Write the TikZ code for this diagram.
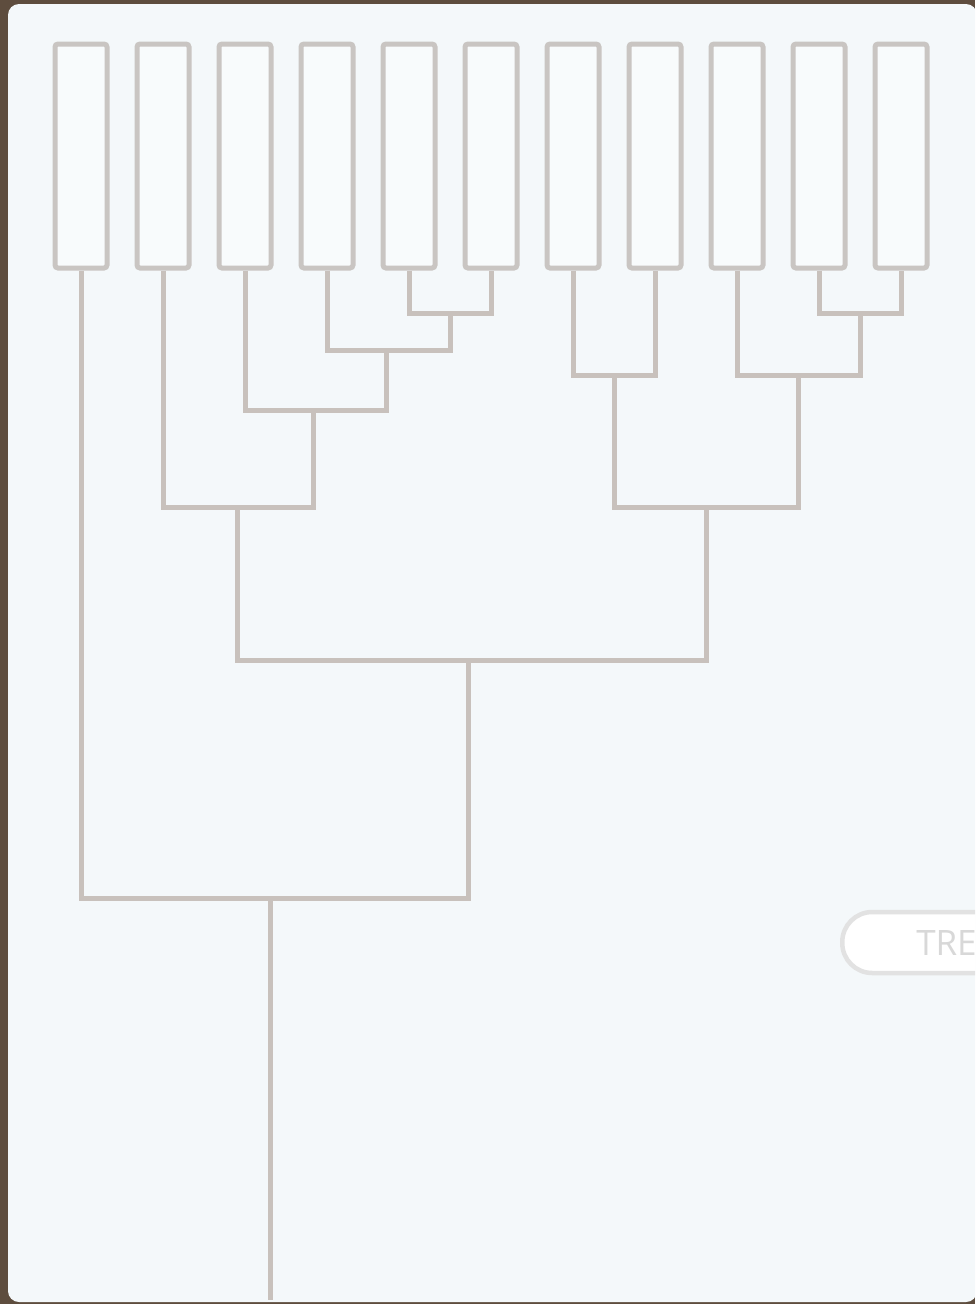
\documentclass[tikz,border=0pt]{standalone}
\usepackage{fontspec}
\setsansfont{Open Sans}
\definecolor{backdrop}{HTML}{5E4D3E}
\definecolor{panel}{HTML}{F4F8FA}
\definecolor{boxgray}{HTML}{C9C5C2}
\definecolor{linegray}{HTML}{C8C1BC}
\definecolor{pillgray}{HTML}{E2E2E2}
\definecolor{pilltext}{HTML}{D8D8D8}
\begin{document}
\begin{tikzpicture}[
    x=1pt, y=-1pt,
    leaf/.style={draw=boxgray, line width=5pt, fill=panel!60!white, rounded corners=3pt,
                 minimum width=52pt, minimum height=224pt, inner sep=0pt},
    branch/.style={draw=linegray, line width=5pt},
    pill/.style={draw=pillgray, line width=4.5pt, fill=white, rounded corners=30pt,
                 minimum height=61pt, text width=120pt, inner xsep=74pt, align=left,
                 text height=25pt, text depth=0pt, text=pilltext,
                 font=\sffamily\fontsize{35}{38}\selectfont},
]

% ---- 画布 ----
\useasboundingbox (0,0) rectangle (975,1304);
\clip (0,0) rectangle (975,1304);
\fill[backdrop] (0,0) rectangle (975,1304);
\fill[panel, rounded corners=11pt] (8,4) rectangle (977,1302);

% ---- 叶子 ----
\foreach \i in {1,...,11} {
    \node[leaf] (b\i) at ({81+82*(\i-1)},156) {};
}

% ---- 分支点 ----
\coordinate (j56)   at (450,313);
\coordinate (j4)    at (386,350);
\coordinate (j3)    at (313,410);
\coordinate (j2)    at (237,507);
\coordinate (j78)   at (614,375);
\coordinate (j1011) at (860,313);
\coordinate (j9)    at (798,375);
\coordinate (jR)    at (706,507);
\coordinate (jLR)   at (468,660);
\coordinate (jroot) at (270,898);
\coordinate (root)  at (270,1300);

% ---- 左侧子树 ----
\draw[branch] (b5.south) |- (j56) -| (b6.south);
\draw[branch] (b4.south) |- (j4) -| (j56);
\draw[branch] (b3.south) |- (j3) -| (j4);
\draw[branch] (b2.south) |- (j2) -| (j3);

% ---- 右侧子树 ----
\draw[branch] (b7.south) |- (j78) -| (b8.south);
\draw[branch] (b10.south) |- (j1011) -| (b11.south);
\draw[branch] (b9.south) |- (j9) -| (j1011);
\draw[branch] (j78) |- (jR) -| (j9);

% ---- 根 ----
\draw[branch] (j2) |- (jLR) -| (jR);
\draw[branch] (b1.south) |- (jroot) -| (jLR);
\draw[branch] (jroot) -- (root);

% ---- 按钮 ----
\node[pill, anchor=west] (tree) at (840,942.5) {TRE};

\end{tikzpicture}
\end{document}
